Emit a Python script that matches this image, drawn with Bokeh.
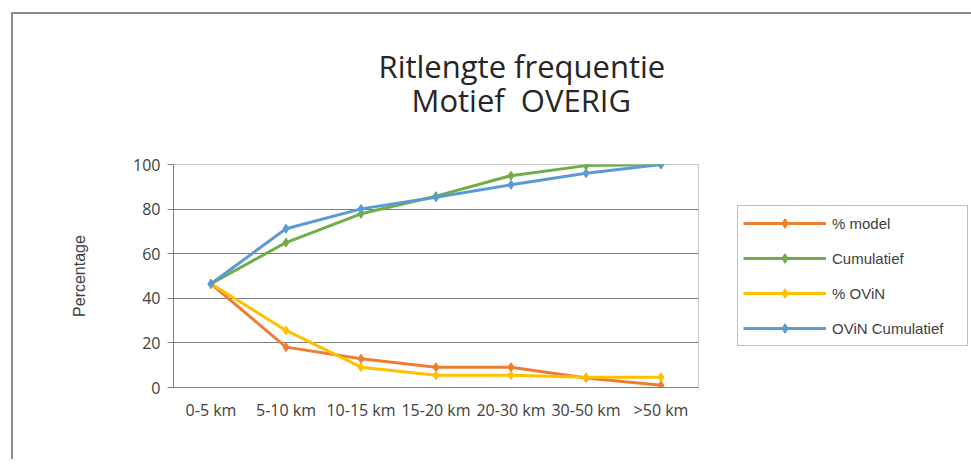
from bokeh.plotting import figure
from bokeh.models import FactorRange, Range1d, Legend, LegendItem, Title, SingleIntervalTicker
from bokeh.embed import file_html
from bokeh.resources import INLINE

categories = ["0-5 km", "5-10 km", "10-15 km", "15-20 km", "20-30 km", "30-50 km", ">50 km"]
pct_model = [46.5, 18.1, 12.9, 9.1, 9.1, 4.3, 1.0]
cumulatief = [46.5, 65.0, 77.9, 85.8, 95.0, 99.5, 100.0]
pct_ovin = [46.5, 25.6, 9.1, 5.5, 5.5, 4.6, 4.6]
ovin_cumulatief = [46.5, 71.2, 80.1, 85.3, 90.9, 96.1, 100.0]

series = [
    ("% model", pct_model, "#ED7D31"),
    ("Cumulatief", cumulatief, "#70AD47"),
    ("% OViN", pct_ovin, "#FFC000"),
    ("OViN Cumulatief", ovin_cumulatief, "#5B9BD5"),
]

p = figure(
    x_range=FactorRange(*categories, range_padding=0),
    y_range=Range1d(0, 100),
    frame_width=525, frame_height=223,
    min_border_left=160, min_border_right=265,
    min_border_top=150, min_border_bottom=72,
    output_backend="svg", toolbar_location=None,
)
p.styles = {
    "margin-left": "11px", "margin-top": "12px",
    "border-left": "2px solid #8c8c8c", "border-top": "2px solid #8c8c8c",
}
p.background_fill_color = "white"
p.border_fill_color = "white"
p.outline_line_color = "#c8c8c8"

p.xgrid.grid_line_color = None
p.ygrid.grid_line_color = "#7f7f7f"
p.ygrid.grid_line_width = 1
p.yaxis.ticker = SingleIntervalTicker(interval=20)

for ax in (p.xaxis[0], p.yaxis[0]):
    ax.axis_line_color = "#7f7f7f"
    ax.major_label_text_font = "Open Sans"
    ax.major_label_text_font_size = "16px"
    ax.major_label_text_color = "#404040"
    ax.minor_tick_line_color = None

p.xaxis.major_tick_line_color = None
p.xaxis.major_tick_out = 0
p.xaxis.major_label_standoff = 11

p.yaxis.major_tick_line_color = "#7f7f7f"
p.yaxis.major_tick_out = 6
p.yaxis.major_tick_in = 0
p.yaxis.major_label_standoff = 7
p.yaxis.axis_label = "Percentage"
p.yaxis.axis_label_text_font = "Liberation Sans"
p.yaxis.axis_label_text_font_style = "normal"
p.yaxis.axis_label_text_font_size = "16px"
p.yaxis.axis_label_text_color = "#404040"
p.yaxis.axis_label_standoff = 42

items = []
for name, vals, col in series:
    r1 = p.line(categories, vals, line_color=col, line_width=3)
    r2 = p.scatter(categories, vals, marker="diamond", size=9,
                   fill_color=col, line_color=col)
    items.append(LegendItem(label=name, renderers=[r1, r2]))

legend = Legend(items=items, location=(39, 41))
legend.label_text_font = "Liberation Sans"
legend.label_text_font_size = "15px"
legend.label_text_color = "#404040"
legend.glyph_width = 83
legend.glyph_height = 24
legend.label_height = 20
legend.label_width = 130
legend.spacing = 11
legend.padding = 5
legend.margin = 0
legend.label_standoff = 6
legend.border_line_color = "#7f7f7f"
legend.border_line_width = 1
legend.background_fill_color = "white"
p.add_layout(legend, "right")

# spacer between the frame and the two title lines
p.add_layout(Title(text=" ", text_font_size="2px", standoff=40), "above")
p.add_layout(Title(text="Motief\u00a0 OVERIG", align="left", offset=238,
                   standoff=0, text_font="Open Sans", text_font_style="normal",
                   text_font_size="31px", text_color="#262626"), "above")
p.title.text = "Ritlengte frequentie"
p.title.align = "left"
p.title.offset = 205
p.title.standoff = -21
p.title.text_font = "Open Sans"
p.title.text_font_style = "normal"
p.title.text_font_size = "31px"
p.title.text_color = "#262626"

open("out.html", "w").write(file_html(p, INLINE))
